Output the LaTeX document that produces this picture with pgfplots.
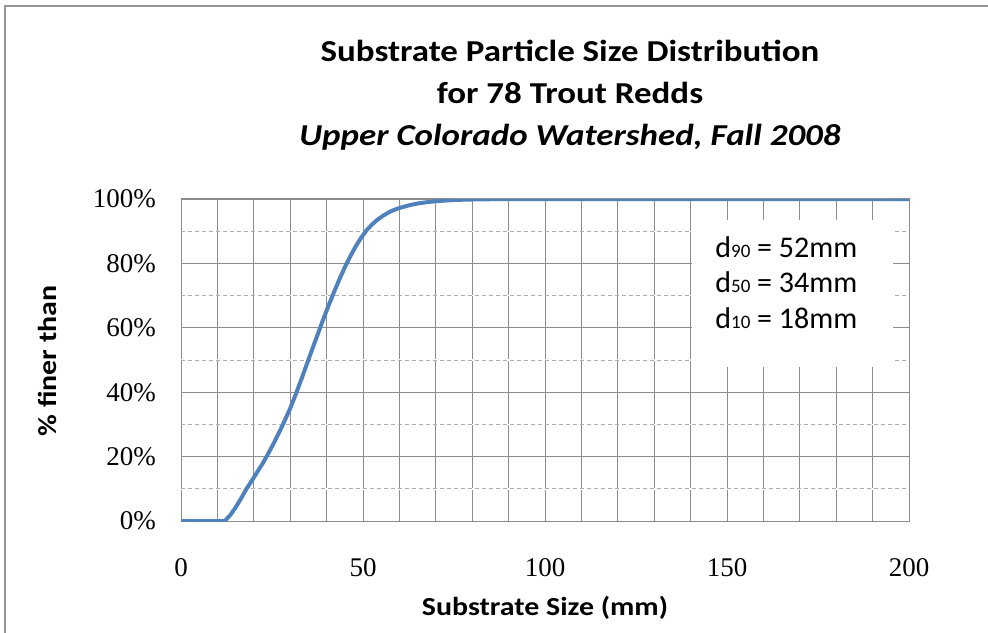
\documentclass[border=0pt]{standalone}
\usepackage{fontspec}
\setmainfont{Carlito}
\newfontfamily\widefont[FakeStretch=1.15]{Carlito}
\newfontfamily\tickfont{Liberation Serif}
\usepackage{pgfplots}
\pgfplotsset{compat=1.18}
\definecolor{excelblue}{RGB}{79,129,189}
\definecolor{gridgray}{RGB}{140,140,140}
\definecolor{framegray}{RGB}{150,150,150}
\begin{document}
\begin{tikzpicture}
\useasboundingbox (-90.5pt,-55.5pt) rectangle (403.5pt,260.5pt);
\draw[framegray, line width=0.8pt] (-88pt,-60pt) -- (-88pt,257.5pt) -- (410pt,257.5pt);
\begin{axis}[
  scale only axis,
  width=364pt, height=161pt,
  xmin=0, xmax=200, ymin=0, ymax=100,
  xtick={0,50,100,150,200},
  minor xtick={10,20,30,40,60,70,80,90,110,120,130,140,160,170,180,190},
  ytick={0,20,40,60,80,100},
  minor ytick={10,30,50,70,90},
  grid=both,
  major grid style={gridgray, line width=0.5pt},
  minor grid style={gridgray, line width=0.5pt},
  axis line style={gridgray, line width=0.5pt},
  major tick length=0pt, minor tick length=0pt,
  /pgf/number format/assume math mode=true,
  ticklabel style={font=\tickfont\fontsize{13.5}{15}\selectfont},
  xticklabel style={yshift=-15pt},
  yticklabel style={xshift=-9pt},
  yticklabel={\pgfmathprintnumber{\tick}\%},
]
% dashed minor horizontal grid lines
\pgfplotsinvokeforeach{10,30,50,70,90}{
  \draw[white, line width=0.7pt] (axis cs:0,#1) -- (axis cs:200,#1);
  \draw[gridgray!70, line width=0.5pt, dash pattern=on 2pt off 1.5pt] (axis cs:0,#1) -- (axis cs:200,#1);
}
\fill[white] (axis cs:140.4,47.8) rectangle (axis cs:195.6,93.5);
\addplot[excelblue, line width=2pt, line join=round] coordinates {
(0,0) (12,0) (13.5,1.8) (15,4.2) (16.5,7) (18,10) (19.5,12.6) (21,15.3) (22.5,18) (24,21)
(25.5,24.2) (27,27.6) (28.5,31.2) (30,35) (31.5,39.3) (33,43.8) (34.5,48.5) (36,53.2)
(37.5,57.8) (39,62.4) (40.5,66.8) (42,71) (43.5,75) (45,78.8) (46.5,82.2) (48,85.3)
(49.5,88) (51,90.3) (52.5,92.1) (54,93.6) (55.5,94.8) (57,95.8) (58.5,96.6) (60,97.2)
(62.5,98) (65,98.6) (67.5,99) (70,99.3) (75,99.7) (80,99.85) (90,100) (200,100)
};
\node[anchor=base west, inner sep=0, font=\fontsize{15}{17}\selectfont] at (axis cs:146.7,81.7) {d{\fontsize{9.5}{10}\selectfont 90} = 52mm};
\node[anchor=base west, inner sep=0, font=\fontsize{15}{17}\selectfont] at (axis cs:146.7,71.1) {d{\fontsize{9.5}{10}\selectfont 50} = 34mm};
\node[anchor=base west, inner sep=0, font=\fontsize{15}{17}\selectfont] at (axis cs:146.7,59.9) {d{\fontsize{9.5}{10}\selectfont 10} = 18mm};
\end{axis}
\node[anchor=base, inner sep=0, font=\widefont\fontsize{15.2}{18}\selectfont\bfseries] at (194.5pt,229.5pt) {Substrate Particle Size Distribution};
\node[anchor=base, inner sep=0, font=\widefont\fontsize{15.2}{18}\selectfont\bfseries] at (194.5pt,208.5pt) {for 78 Trout Redds};
\node[anchor=base, inner sep=0, font=\widefont\fontsize{15.2}{18}\selectfont\bfseries\itshape] at (194.5pt,187.5pt) {Upper Colorado Watershed, Fall 2008};
\node[rotate=90, inner sep=0, font=\widefont\fontsize{13}{15}\selectfont\bfseries] at (-67pt,80pt) {\% finer than};
\node[anchor=base, inner sep=0, font=\widefont\fontsize{13}{15}\selectfont\bfseries] at (182pt,-47pt) {Substrate Size (mm)};
\end{tikzpicture}
\end{document}
